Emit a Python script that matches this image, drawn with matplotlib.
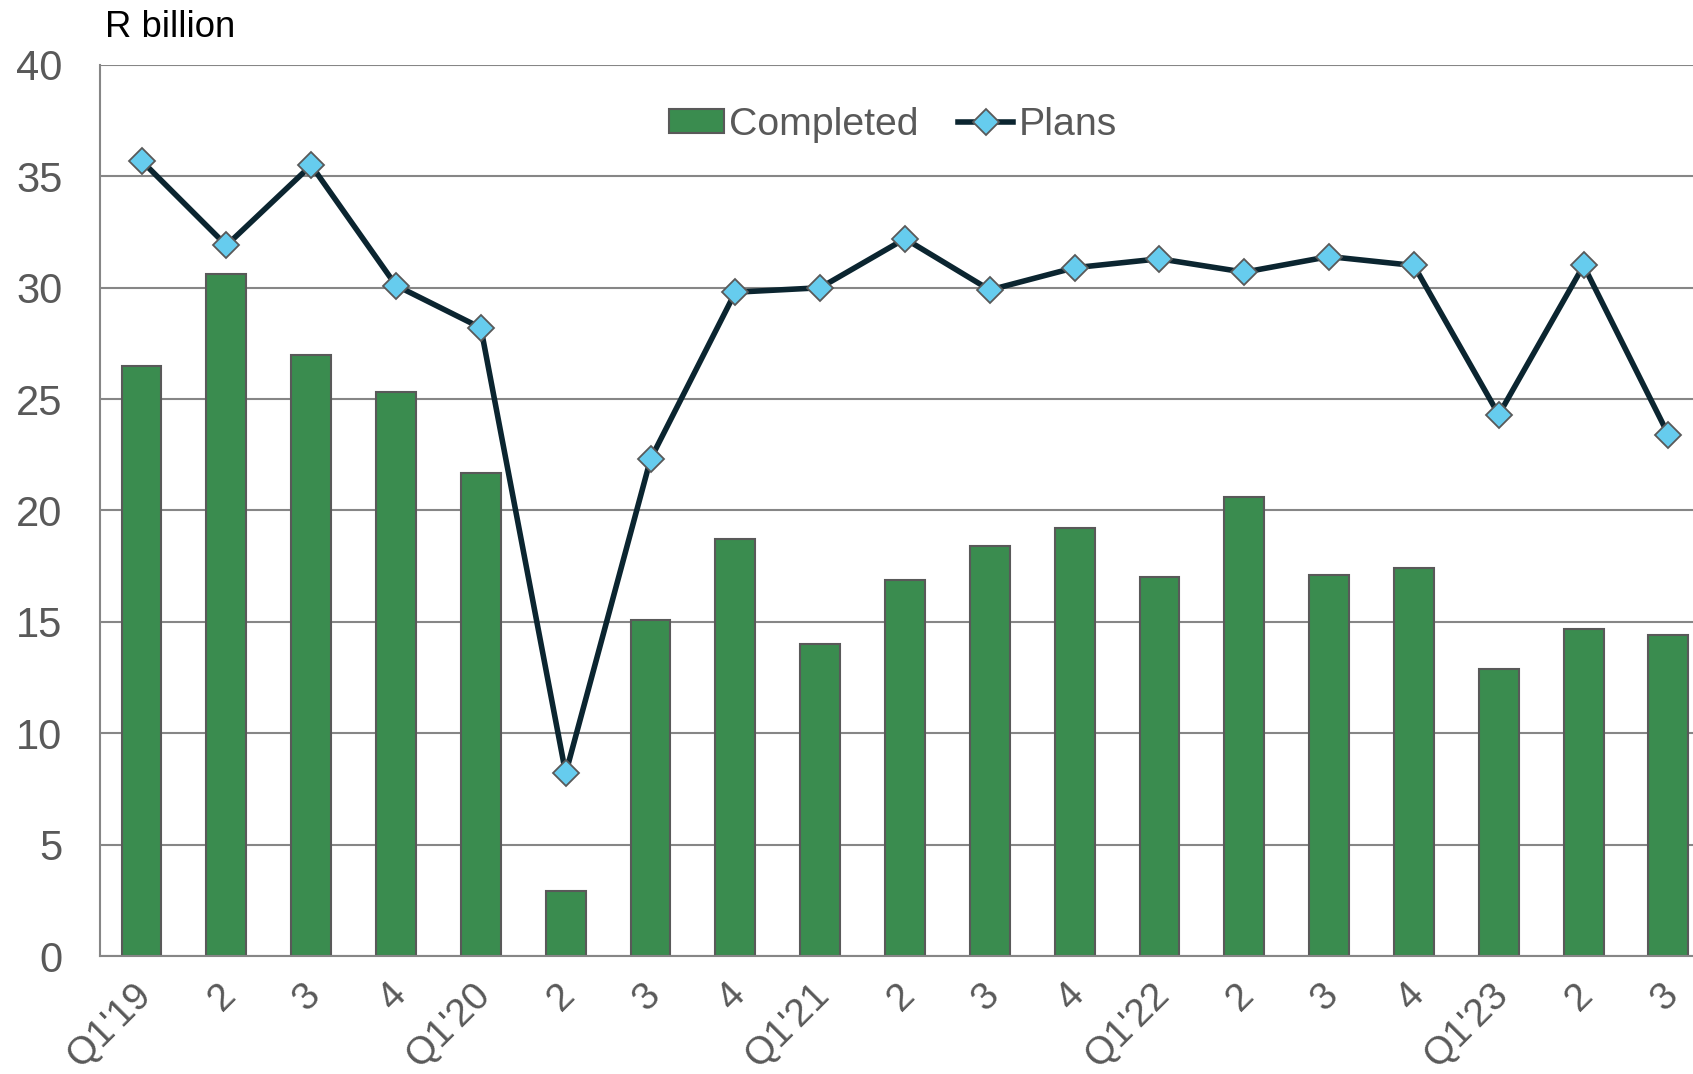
import matplotlib.pyplot as plt
import numpy as np
from matplotlib.transforms import ScaledTranslation

plt.rcParams['font.family'] = ['Liberation Sans', 'DejaVu Sans']

quarters = ["Q1'19", "2", "3", "4", "Q1'20", "2", "3", "4", "Q1'21", "2", "3", "4",
            "Q1'22", "2", "3", "4", "Q1'23", "2", "3"]
completed = [26.5, 30.6, 27.0, 25.3, 21.7, 2.9, 15.1, 18.7, 14.0, 16.9, 18.4, 19.2,
             17.0, 20.6, 17.1, 17.4, 12.9, 14.7, 14.4]
plans = [35.7, 31.9, 35.5, 30.1, 28.2, 8.2, 22.3, 29.8, 30.0, 32.2, 29.9, 30.9,
         31.3, 30.7, 31.4, 31.0, 24.3, 31.0, 23.4]

W, H = 1693, 1074
fig = plt.figure(figsize=(W / 100, H / 100), dpi=100)
ax = fig.add_axes([100 / W, 1 - 956 / H, 1 - 100 / W, (956 - 65) / H])

x = np.arange(len(quarters))
bars = ax.bar(x, completed, width=0.47, color='#3a8c4f', edgecolor='#595959',
              linewidth=1.5, label='Completed', zorder=2)
line, = ax.plot(x, plans, color='#0b2530', linewidth=4, marker='D', markersize=13,
                markerfacecolor='#66ccee', markeredgecolor='#595959', markeredgewidth=1.3,
                label='Plans', zorder=3)

ax.set_ylim(0, 40)
ax.set_xlim(-0.49, 18.29)
ax.set_yticks(range(0, 41, 5))
ax.yaxis.grid(True, color='#868686', linewidth=1.5, zorder=0)
ax.set_axisbelow(True)
for s in ['top', 'right']:
    ax.spines[s].set_visible(False)
for s in ['left', 'bottom']:
    ax.spines[s].set_color('#868686')
    ax.spines[s].set_linewidth(1.5)
ax.tick_params(length=0, labelsize=30, labelcolor='#595959')
ax.tick_params(axis='y', pad=27)
ax.set_xticks(x)
ax.set_xticklabels(quarters, rotation=45, ha='right', va='center', rotation_mode='anchor',
                   fontsize=28)
ax.tick_params(axis='x', pad=24)
shift = ScaledTranslation(4 / 100, 0, fig.dpi_scale_trans)
for lbl in ax.get_xticklabels():
    lbl.set_transform(lbl.get_transform() + shift)

fig.text(105 / W, 1 - 37 / H, 'R billion', fontsize=26.3, color='black',
         va='baseline', ha='left')

ax.legend(handles=[bars, line], loc='center',
          bbox_to_anchor=((893 - 100) / (W - 100), 1 - (125 - 65) / (956 - 65)),
          ncol=2, frameon=False, fontsize=28.3, labelcolor='#595959', handlelength=1.4,
          handletextpad=0.15, columnspacing=1.0, handleheight=0.54)

fig.savefig('out.png', dpi=100)
